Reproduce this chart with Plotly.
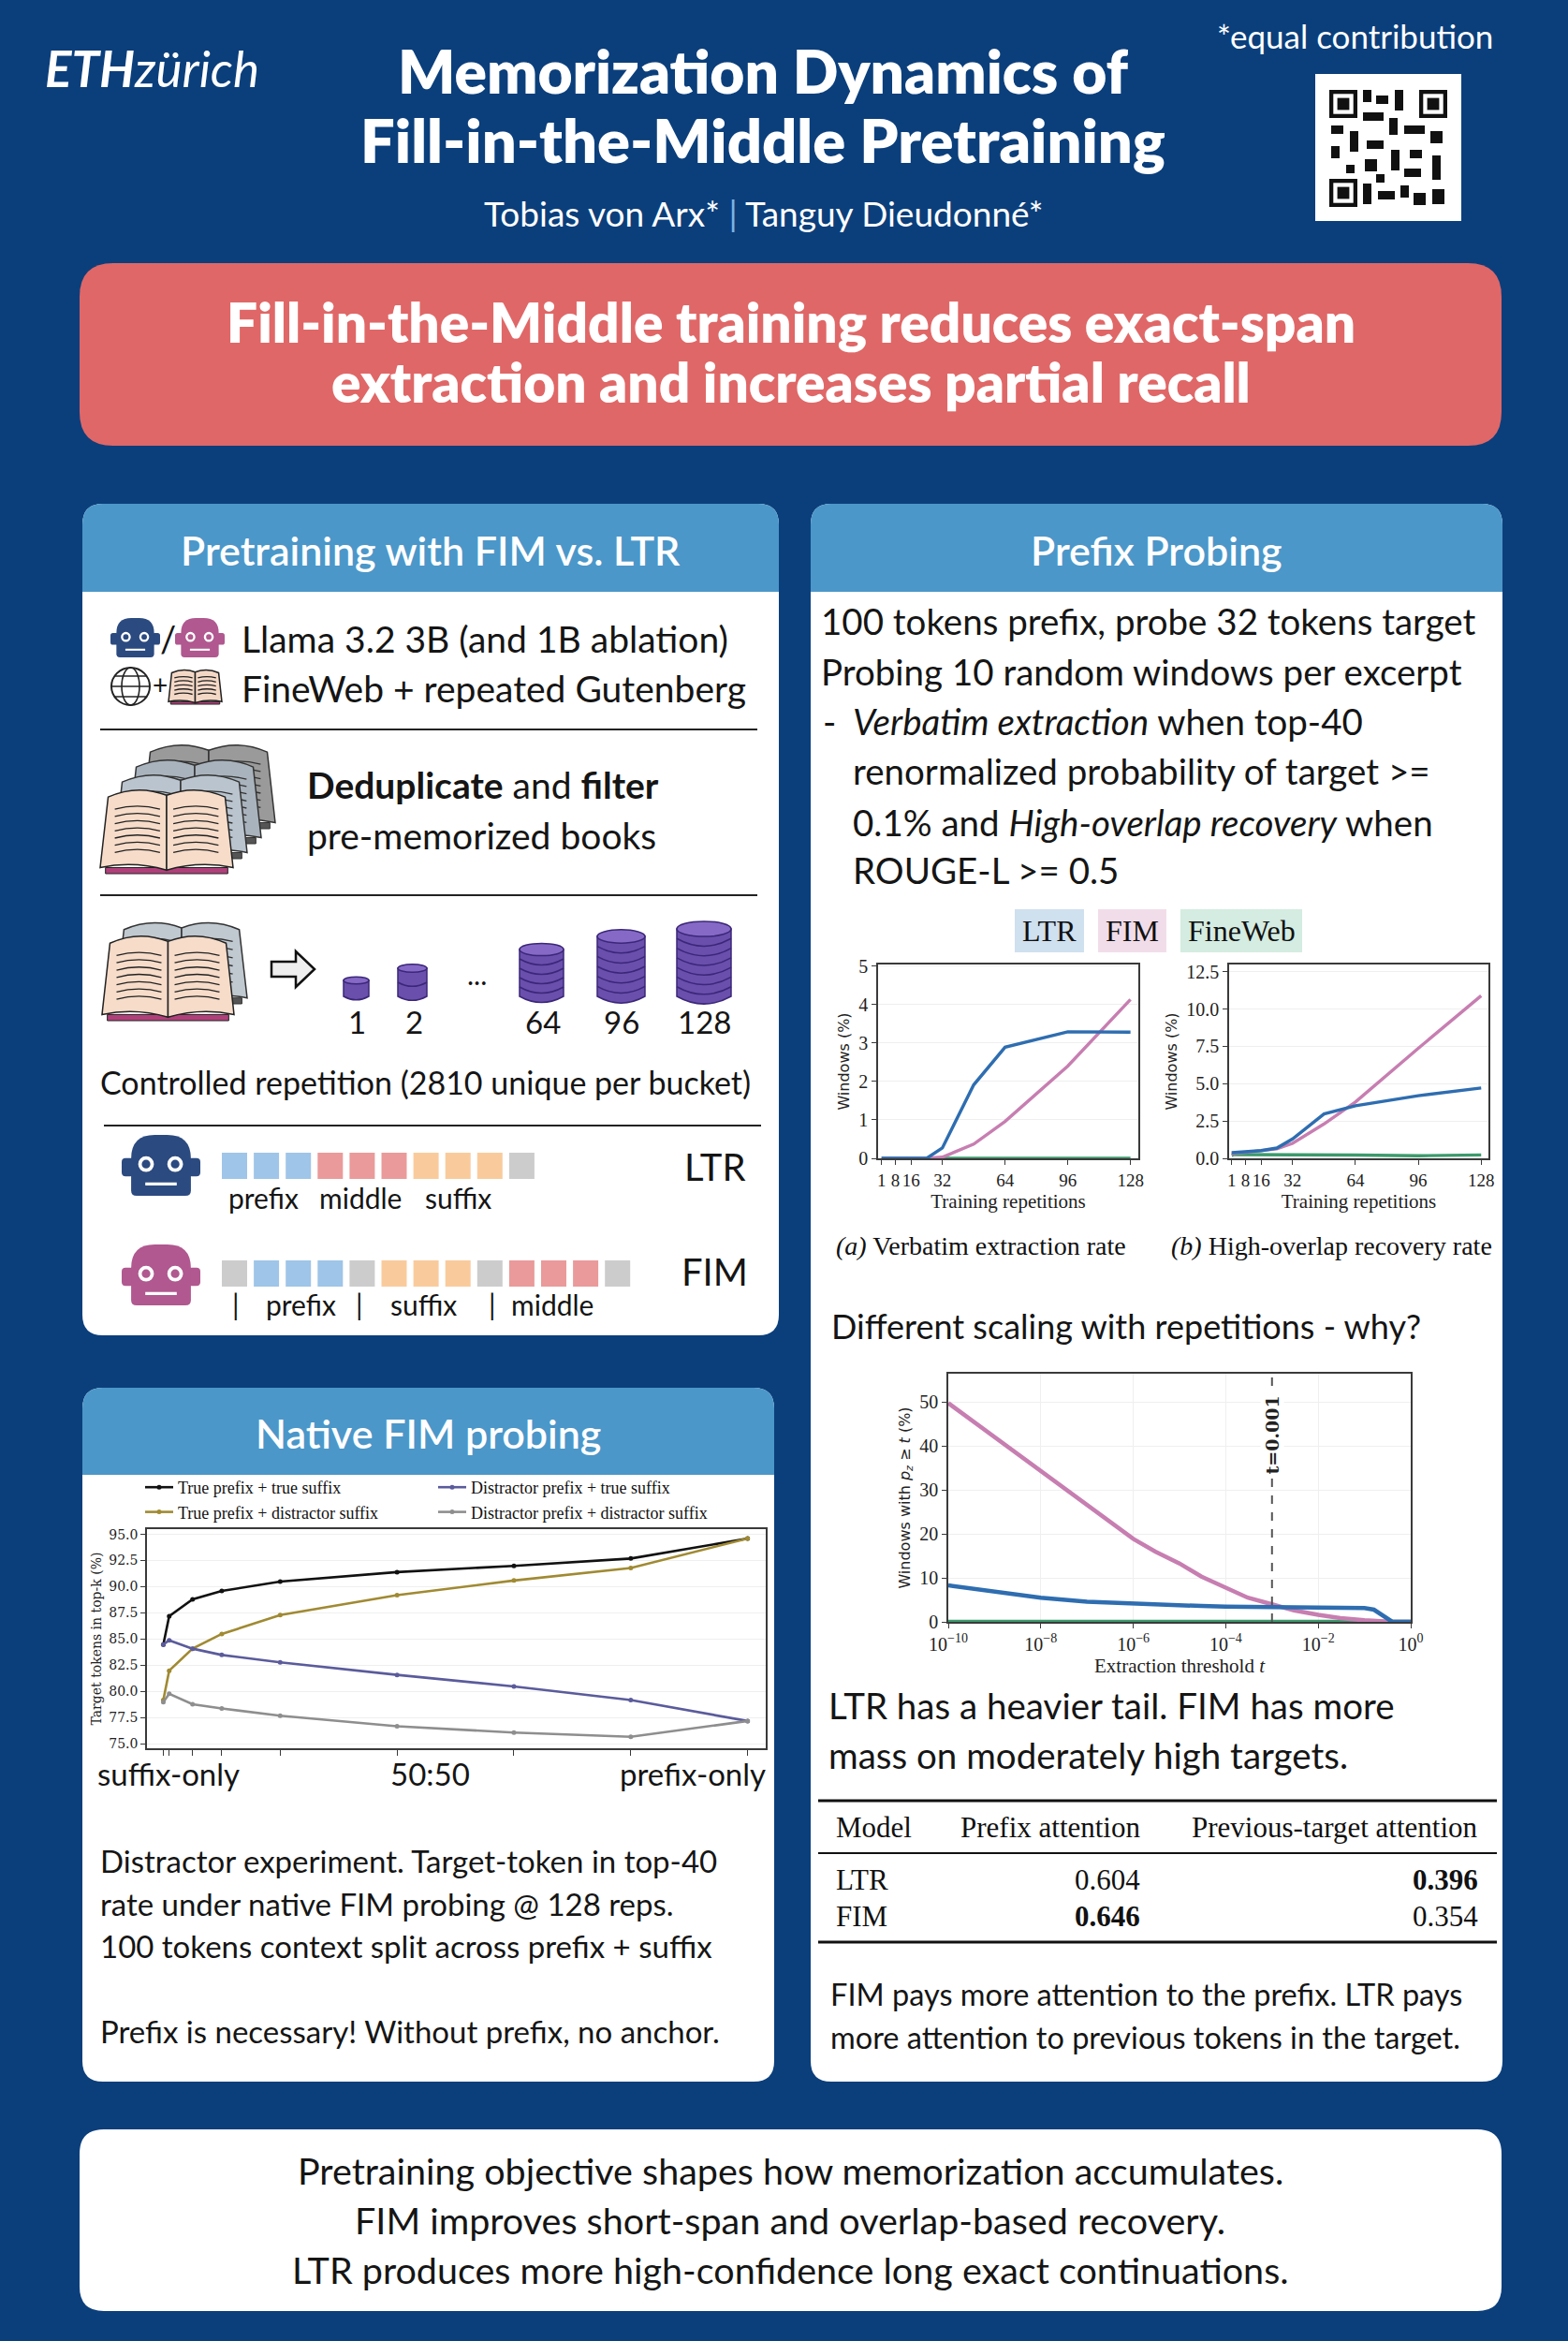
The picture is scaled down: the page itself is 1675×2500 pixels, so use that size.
import math

import plotly.graph_objects as go

W, H = 1675, 2500
BG = "#0b3f7c"
HEADER = "#4b97c9"
BANNER = "#e06767"
INK = "#151515"
SANS = "Lato"
SERIF = "Liberation Serif"

LTR_C = "#2e6db0"
FIM_C = "#c77eb1"
FW_C = "#3c9a6c"

REPS = [1, 2, 4, 8, 16, 24, 32, 48, 64, 96, 128]
VERBATIM_LTR = [0.0, 0.0, 0.0, 0.0, 0.0, 0.0, 0.27, 1.91, 2.89, 3.29, 3.28]
VERBATIM_FIM = [0.0, 0.0, 0.0, 0.0, 0.0, 0.0, 0.03, 0.37, 0.96, 2.40, 4.13]
VERBATIM_FW = [0.0, 0.0, 0.0, 0.0, 0.0, 0.0, 0.0, 0.0, 0.0, 0.0, 0.0]
OVERLAP_LTR = [0.38, 0.39, 0.40, 0.42, 0.52, 0.69, 1.30, 2.97, 3.52, 4.19, 4.71]
OVERLAP_FIM = [0.30, 0.33, 0.36, 0.40, 0.50, 0.63, 1.00, 2.30, 3.77, 7.37, 10.89]
OVERLAP_FW = [0.20, 0.24, 0.25, 0.25, 0.25, 0.25, 0.25, 0.24, 0.22, 0.17, 0.23]

THRESH = [1e-10, 1e-9, 1e-8, 1e-7, 1e-6, 3e-6, 1e-5, 3e-5, 1e-4, 3e-4, 1e-3,
          3e-3, 1e-2, 3e-2, 0.1, 0.16, 0.22, 0.32, 0.4, 1.0]
TAIL_FIM = [49.8, 42.1, 34.4, 26.6, 18.9, 16.0, 13.3, 10.3, 7.8, 5.5, 4.0,
            2.6, 1.6, 0.85, 0.35, 0.2, 0.1, 0.0, 0.0, 0.0]
TAIL_LTR = [8.3, 6.9, 5.5, 4.6, 4.1, 3.9, 3.76, 3.6, 3.48, 3.4, 3.33,
            3.25, 3.19, 3.15, 3.12, 2.77, 1.77, 0.7, 0.0, 0.0]
TAIL_FW = [0.0, 0.0, 0.0, 0.0, 0.0, 0.0, 0.0, 0.0, 0.0, 0.0, 0.0,
           0.0, 0.0, 0.0, 0.0, 0.0, 0.0, 0.0, 0.0, 0.0]
THRESHOLD = 1e-3

SPLIT = [0, 1, 5, 10, 20, 40, 60, 80, 100]
TRUE_TRUE = [84.5, 87.2, 88.8, 89.6, 90.5, 91.4, 92.0, 92.7, 94.6]
TRUE_DISTR = [79.2, 82.0, 84.1, 85.5, 87.3, 89.2, 90.6, 91.8, 94.6]
DISTR_TRUE = [84.5, 84.9, 84.1, 83.5, 82.8, 81.6, 80.5, 79.2, 77.2]
DISTR_DISTR = [79.0, 79.8, 78.8, 78.4, 77.7, 76.7, 76.1, 75.7, 77.2]

TABLE_MODELS = ["LTR", "FIM"]
PREFIX_ATT = [0.604, 0.646]
PREV_TARGET_ATT = [0.396, 0.354]

BUCKETS = ["1", "2", "64", "96", "128"]
BUCKET_DISCS = [1, 2, 5, 6, 7]

TOKEN_COLORS = {"prefix": "#9fc5e8", "middle": "#ea9a9a", "suffix": "#f9cb9c", "sep": "#cccccc"}
LTR_SEQ = ["prefix", "prefix", "prefix", "middle", "middle", "middle",
           "suffix", "suffix", "suffix", "sep"]
FIM_SEQ = ["sep", "prefix", "prefix", "prefix", "sep", "suffix", "suffix", "suffix",
           "sep", "middle", "middle", "middle", "sep"]


def X(v):
  return v / W


def Y(v):
  return 1 - v / H


shapes = []
annots = []


def path_str(cmds):
  out = []
  for op, *pts in cmds:
    coords = " ".join(f"{X(pts[i]):.5f},{Y(pts[i + 1]):.5f}" for i in range(0, len(pts), 2))
    out.append(op + coords)
  return " ".join(out)


def add_path(cmds, fill=None, line=None, lw=0):
  shapes.append(dict(
    type="path", xref="paper", yref="paper", path=path_str(cmds),
    fillcolor=fill or "rgba(0,0,0,0)",
    line=dict(color=line or "rgba(0,0,0,0)", width=lw), layer="below",
  ))


def add_rect(x0, y0, x1, y1, fill, line=None, lw=0):
  shapes.append(dict(
    type="rect", xref="paper", yref="paper", x0=X(x0), x1=X(x1), y0=Y(y1), y1=Y(y0),
    fillcolor=fill, line=dict(color=line or fill, width=lw), layer="below",
  ))


def add_oval(x0, y0, x1, y1, fill=None, line=None, lw=0):
  shapes.append(dict(
    type="circle", xref="paper", yref="paper", x0=X(x0), x1=X(x1), y0=Y(y1), y1=Y(y0),
    fillcolor=fill or "rgba(0,0,0,0)",
    line=dict(color=line or "rgba(0,0,0,0)", width=lw), layer="below",
  ))


def add_hline(x0, x1, y, color="#222222", lw=2):
  add_path([("M", x0, y), ("L", x1, y)], None, color, lw)


def rounded(x0, y0, x1, y1, rt, rb=None):
  rb = rt if rb is None else rb
  return [
    ("M", x0 + rt, y0), ("L", x1 - rt, y0), ("Q", x1, y0, x1, y0 + rt),
    ("L", x1, y1 - rb), ("Q", x1, y1, x1 - rb, y1), ("L", x0 + rb, y1),
    ("Q", x0, y1, x0, y1 - rb), ("L", x0, y0 + rt), ("Q", x0, y0, x0 + rt, y0), ("Z",),
  ]


def text(x, y, s, size, color=INK, family=SANS, anchor="left", weight=None, **kw):
  font = dict(size=size, color=color, family=family)
  if weight:
    font["weight"] = weight
  annots.append(dict(
    xref="paper", yref="paper", x=X(x), y=Y(y), text=s, showarrow=False,
    xanchor=anchor, yanchor="middle", font=font, **kw,
  ))


def panel(x0, y0, x1, y1, header_bottom, title):
  add_path(rounded(x0, y0, x1, y1, 22), "white")
  add_path(rounded(x0, y0, x1, header_bottom, 22, 0), HEADER)
  text((x0 + x1) / 2, (y0 + header_bottom) / 2 + 2, title, 43, "white", anchor="center", weight=600)


def robot(x0, y0, w, h, color):
  add_path(rounded(x0, y0 + 0.38 * h, x0 + 0.16 * w, y0 + 0.68 * h, 0.05 * w), color)
  add_path(rounded(x0 + 0.84 * w, y0 + 0.38 * h, x0 + w, y0 + 0.68 * h, 0.05 * w), color)
  add_path(rounded(x0 + 0.12 * w, y0, x0 + 0.88 * w, y0 + h, 0.3 * w, 0.07 * w), color)
  for ex in (0.31, 0.68):
    cx, cy, r = x0 + ex * w, y0 + 0.48 * h, 0.1 * w
    add_oval(cx - r, cy - r, cx + r, cy + r, "white")
    ri = r * 0.55
    add_oval(cx - ri, cy - ri, cx + ri, cy + ri, color)
  add_rect(x0 + 0.3 * w, y0 + 0.78 * h, x0 + 0.7 * w, y0 + 0.83 * h, "white")


def open_book(x0, y0, x1, y1, page, ink="#222222", n_lines=6, cover="#b0407a"):
  w, h = x1 - x0, y1 - y0
  xm = (x0 + x1) / 2
  add_rect(x0 + 0.04 * w, y1 - 0.07 * h, x1 - 0.04 * w, y1, cover, ink, 1)
  add_path([("M", x0, y1 - 0.07 * h), ("L", x0 + 0.06 * w, y0 + 0.12 * h),
            ("Q", x0 + 0.28 * w, y0 - 0.03 * h, xm, y0 + 0.1 * h), ("L", xm, y1 - 0.04 * h),
            ("Q", x0 + 0.25 * w, y1 - 0.15 * h, x0, y1 - 0.07 * h), ("Z",)], page, ink, 1.5)
  add_path([("M", x1, y1 - 0.07 * h), ("L", x1 - 0.06 * w, y0 + 0.12 * h),
            ("Q", x1 - 0.28 * w, y0 - 0.03 * h, xm, y0 + 0.1 * h), ("L", xm, y1 - 0.04 * h),
            ("Q", x1 - 0.25 * w, y1 - 0.15 * h, x1, y1 - 0.07 * h), ("Z",)], page, ink, 1.5)
  for k in range(n_lines):
    yk = y0 + 0.24 * h + k * (0.58 * h / n_lines)
    add_path([("M", x0 + 0.11 * w, yk + 0.02 * h), ("Q", x0 + 0.28 * w, yk - 0.05 * h, xm - 0.05 * w, yk + 0.02 * h)],
             None, ink, 1.3)
    add_path([("M", x1 - 0.11 * w, yk + 0.02 * h), ("Q", x1 - 0.28 * w, yk - 0.05 * h, xm + 0.05 * w, yk + 0.02 * h)],
             None, ink, 1.3)


def disc_stack(x0, x1, ybot, ytop, n, color="#6a4fad", edge="#3b2778", top="#8669c6"):
  ry = (x1 - x0) * 0.14
  mid = (x0 + x1) / 2
  add_path([("M", x0, ytop), ("L", x0, ybot), ("Q", mid, ybot + 2 * ry, x1, ybot),
            ("L", x1, ytop), ("Z",)], color, edge, 1.5)
  step = (ybot - ytop) / n
  for k in range(1, n):
    yk = ytop + k * step
    add_path([("M", x0, yk), ("Q", mid, yk + 2 * ry, x1, yk)], None, edge, 1.5)
  add_oval(x0, ytop - ry, x1, ytop + ry, top, edge, 1.5)


# ---- header ----
text(46, 72, "<b><i>ETH</i></b><i>zürich</i>", 53, "white")
text(1447, 38, "*equal contribution", 35, "white", anchor="center")
text(815, 76, "Memorization Dynamics of", 64, "white", anchor="center", weight=800)
text(815, 149, "Fill-in-the-Middle Pretraining", 65, "white", anchor="center", weight=800)
text(815, 228, "Tobias von Arx* <span style='color:#7fb2e0'>|</span> Tanguy Dieudonné*", 37,
     "white", anchor="center")

# qr code
add_rect(1405, 79, 1561, 236, "white")
for qx, qy in [(1420, 96), (1516, 96), (1420, 191)]:
  add_rect(qx, qy, qx + 30, qy + 30, "#111111")
  add_rect(qx + 4.3, qy + 4.3, qx + 25.7, qy + 25.7, "white")
  add_rect(qx + 8.6, qy + 8.6, qx + 21.4, qy + 21.4, "#111111")
for qx, qy, qw, qh in [(1456, 96, 9, 13), (1470, 102, 13, 9), (1490, 96, 9, 22),
                       (1456, 120, 22, 9), (1484, 126, 9, 18), (1422, 134, 13, 9),
                       (1442, 140, 9, 22), (1500, 134, 22, 9), (1528, 140, 13, 13),
                       (1460, 150, 18, 9), (1486, 160, 9, 22), (1506, 160, 13, 9),
                       (1530, 166, 9, 26), (1422, 156, 9, 13), (1458, 170, 13, 13),
                       (1500, 180, 18, 9), (1456, 196, 9, 22), (1472, 204, 18, 9),
                       (1496, 198, 9, 13), (1510, 206, 13, 13), (1530, 202, 13, 16),
                       (1470, 186, 9, 9), (1438, 176, 9, 9)]:
  add_rect(qx, qy, qx + qw, qy + qh, "#111111")

# banner
add_path(rounded(85, 281, 1604, 476, 36), BANNER)
text(845, 343, "Fill-in-the-Middle training reduces exact-span", 58.5, "white", anchor="center", weight=800)
text(845, 407, "extraction and increases partial recall", 58.5, "white", anchor="center", weight=800)

# ---- panel 1: pretraining ----
panel(88, 538, 832, 1426, 632, "Pretraining with FIM vs. LTR")
robot(118, 660, 53, 42, "#2b4a80")
text(179, 682, "/", 38, INK, anchor="center")
robot(187, 660, 53, 42, "#b0588f")
text(256, 682, "Llama 3.2 3B (and 1B ablation)", 39)
add_oval(119, 713, 160, 753, None, "#222222", 2)
add_oval(130, 713, 149, 753, None, "#222222", 1.6)
add_hline(119, 160, 733, "#222222", 1.6)
add_hline(123, 156, 722, "#222222", 1.4)
add_hline(123, 156, 744, "#222222", 1.4)
text(171, 731, "+", 28, INK, anchor="center")
open_book(180, 714, 237, 752, "#f4d8c6", n_lines=5)
text(256, 735, "FineWeb + repeated Gutenberg", 39)
add_hline(107, 809, 779, "#222222", 2)

for k, col in enumerate(["#9a9a9a", "#a9b3bd", "#bac4ce"]):
  off = 3 - k
  open_book(107 + 15 * off, 840 - 16 * off, 249 + 15 * off, 933 - 16 * off, col, "#333333", 7, "#555555")
open_book(107, 840, 249, 933, "#f6dcc9", n_lines=7)
text(326, 838, "<b>Deduplicate</b> and <b>filter</b>", 39)
text(326, 892, "pre-memorized books", 39)
add_hline(107, 809, 956, "#222222", 2)

open_book(124, 982, 264, 1072, "#c0c8d0", "#333333", 6, "#555555")
open_book(109, 996, 250, 1090, "#f6dcc9", n_lines=7)
add_path([("M", 290, 1027), ("L", 316, 1027), ("L", 316, 1016), ("L", 336, 1035),
          ("L", 316, 1054), ("L", 316, 1043), ("L", 290, 1043), ("Z",)], "#eeeeee", "#111111", 2.5)
stack_x = [(367, 394), (425, 456), (555, 602), (638, 689), (723, 781)]
stack_top = [1047, 1034, 1014, 1000, 992]
label_x = [381, 442, 580, 664, 752]
for (sx0, sx1), top, n, lab, lx in zip(stack_x, stack_top, BUCKET_DISCS, BUCKETS, label_x):
  disc_stack(sx0, sx1, 1064, top, n)
  text(lx, 1091, lab, 33, INK, anchor="center")
text(510, 1040, "...", 30, INK, anchor="center")
text(105, 1155, "Controlled repetition (2810 unique per bucket)", 34)
add_hline(111, 813, 1202, "#222222", 2)

robot(130, 1212, 84, 65, "#2b4a80")
for i, kind in enumerate(LTR_SEQ):
  add_rect(237 + i * 34.1, 1231, 264 + i * 34.1, 1259, TOKEN_COLORS[kind])
for lab, lx in [("prefix", 281), ("middle", 385), ("suffix", 489)]:
  text(lx, 1279, lab, 30, INK, anchor="center")
text(763, 1246, "LTR", 40, INK, anchor="center")

robot(130, 1329, 84, 65, "#b0588f")
for i, kind in enumerate(FIM_SEQ):
  add_rect(237 + i * 34.1, 1346, 264 + i * 34.1, 1374, TOKEN_COLORS[kind])
for lab, lx in [("|", 252), ("prefix", 321), ("|", 384), ("suffix", 452), ("|", 526), ("middle", 590)]:
  text(lx, 1393, lab, 30, INK, anchor="center")
text(763, 1358, "FIM", 40, INK, anchor="center")

# ---- panel 2: native fim ----
panel(88, 1482, 827, 2223, 1575, "Native FIM probing")
text(180, 1894, "suffix-only", 33, INK, anchor="center")
text(459, 1894, "50:50", 33, INK, anchor="center")
text(740, 1894, "prefix-only", 33, INK, anchor="center")
text(105, 1987, "Distractor experiment. Target-token in top-40", 33)
text(105, 2033, "rate under native FIM probing @ 128 reps.", 33)
text(105, 2078, "100 tokens context split across prefix + suffix", 33)
text(105, 2169, "Prefix is necessary! Without prefix, no anchor.", 33)

# ---- panel 3: prefix probing ----
panel(866, 538, 1605, 2223, 632, "Prefix Probing")
text(875, 663, "100 tokens prefix, probe 32 tokens target", 38.5)
text(875, 717, "Probing 10 random windows per excerpt", 38.5)
text(877, 770, "-", 38.5)
text(909, 770, "<i>Verbatim extraction</i> when top-40", 38.5)
text(909, 823, "renormalized probability of target >=", 38.5)
text(909, 878, "0.1% and <i>High-overlap recovery</i> when", 38.5)
text(909, 929, "ROUGE-L >= 0.5", 38.5)

for lab, x0, x1, col in [("LTR", 1084, 1158, "#cfe0ef"), ("FIM", 1173, 1246, "#f1dde9"),
                         ("FineWeb", 1261, 1391, "#d4ece1")]:
  add_rect(x0, 971, x1, 1017, col)
  text((x0 + x1) / 2, 994, lab, 32, "#111111", SERIF, anchor="center")

text(1048, 1330, "<i>(a)</i> Verbatim extraction rate", 28, "#111111", SERIF, anchor="center")
text(1422, 1330, "<i>(b)</i> High-overlap recovery rate", 28, "#111111", SERIF, anchor="center")
text(886, 1416, "Different scaling with repetitions - why?", 36)
text(883, 1821, "LTR has a heavier tail. FIM has more", 38.5)
text(883, 1874, "mass on moderately high targets.", 38.5)

# table
add_hline(874, 1599, 1923, "#111111", 3)
add_hline(874, 1599, 1979, "#111111", 2)
add_hline(874, 1599, 2074, "#111111", 3)
text(891, 1951, "Model", 31, "#111111", SERIF)
text(1220, 1951, "Prefix attention", 31, "#111111", SERIF, anchor="right")
text(1581, 1951, "Previous-target attention", 31, "#111111", SERIF, anchor="right")
for row, (model, pa, pt) in enumerate(zip(TABLE_MODELS, PREFIX_ATT, PREV_TARGET_ATT)):
  ry = 2007 + row * 39
  pa_s = f"{pa:.3f}" if pa < max(PREFIX_ATT) else f"<b>{pa:.3f}</b>"
  pt_s = f"{pt:.3f}" if pt < max(PREV_TARGET_ATT) else f"<b>{pt:.3f}</b>"
  text(891, ry, model, 31, "#111111", SERIF)
  text(1220, ry, pa_s, 31, "#111111", SERIF, anchor="right")
  text(1581, ry, pt_s, 31, "#111111", SERIF, anchor="right")
text(885, 2129, "FIM pays more attention to the prefix. LTR pays", 32.5)
text(885, 2175, "more attention to previous tokens in the target.", 32.5)

# ---- bottom box ----
add_path(rounded(85, 2274, 1604, 2468, 26), "white")
text(844, 2317, "Pretraining objective shapes how memorization accumulates.", 39.5, anchor="center")
text(844, 2370, "FIM improves short-span and overlap-based recovery.", 39.5, anchor="center")
text(844, 2423, "LTR produces more high-confidence long exact continuations.", 39.5, anchor="center")

# ---- charts ----
fig = go.Figure()

native = [
  ("True prefix + true suffix", TRUE_TRUE, "#111111", "legend"),
  ("True prefix + distractor suffix", TRUE_DISTR, "#a08a32", "legend"),
  ("Distractor prefix + true suffix", DISTR_TRUE, "#5b5b9c", "legend2"),
  ("Distractor prefix + distractor suffix", DISTR_DISTR, "#8e8e8e", "legend2"),
]
for name, vals, col, leg in native:
  fig.add_trace(go.Scatter(
    x=SPLIT, y=vals, name=name, mode="lines+markers", legend=leg,
    line=dict(color=col, width=2.6), marker=dict(color=col, size=5),
    xaxis="x", yaxis="y",
  ))

for vals, col in [(VERBATIM_FW, FW_C), (VERBATIM_FIM, FIM_C), (VERBATIM_LTR, LTR_C)]:
  fig.add_trace(go.Scatter(x=REPS, y=vals, mode="lines", line=dict(color=col, width=3.4),
                           showlegend=False, xaxis="x2", yaxis="y2", cliponaxis=False))
for vals, col in [(OVERLAP_FW, FW_C), (OVERLAP_FIM, FIM_C), (OVERLAP_LTR, LTR_C)]:
  fig.add_trace(go.Scatter(x=REPS, y=vals, mode="lines", line=dict(color=col, width=3.4),
                           showlegend=False, xaxis="x3", yaxis="y3", cliponaxis=False))
for vals, col in [(TAIL_FW, FW_C), (TAIL_FIM, FIM_C), (TAIL_LTR, LTR_C)]:
  fig.add_trace(go.Scatter(x=THRESH, y=vals, mode="lines", line=dict(color=col, width=4.5),
                           showlegend=False, xaxis="x4", yaxis="y4", cliponaxis=False))


def xdom(a, b):
  return [a / W, b / W]


def ydom(a, b):
  return [1 - b / H, 1 - a / H]


def ax(**kw):
  base = dict(showline=True, mirror=True, linecolor="#3a3a3a", linewidth=1.5, ticks="outside",
              ticklen=5, tickwidth=1.2, tickcolor="#3a3a3a", showgrid=True, gridcolor="#efefef",
              zeroline=False, fixedrange=True, automargin=False, tickangle=0,
              tickfont=dict(family=SERIF, size=20, color="#222222"))
  base.update(kw)
  return base


rep_ticks = dict(tickvals=[1, 8, 16, 32, 64, 96, 128], ticktext=["1", "8", "16", "32", "64", "96", "128"],
                 tickfont=dict(family=SERIF, size=19, color="#222222"))
rep_title = dict(text="Training repetitions", font=dict(family=SERIF, size=21, color="#222222"), standoff=2)
win_title = dict(text="Windows (%)", font=dict(family="DejaVu Sans", size=16, color="#222222"), standoff=6)

legend_style = dict(yanchor="top", xanchor="left", bgcolor="rgba(0,0,0,0)", tracegroupgap=0,
                    itemwidth=30, font=dict(family=SERIF, size=18, color="#111111"))

fig.update_layout(
  width=W, height=H, autosize=False,
  margin=dict(l=0, r=0, t=0, b=0, pad=0, autoexpand=False),
  paper_bgcolor=BG, plot_bgcolor="rgba(0,0,0,0)",
  hovermode=False,
  shapes=shapes + [dict(type="line", xref="x4", yref="y4 domain", x0=THRESHOLD, x1=THRESHOLD,
                        y0=0, y1=1, line=dict(color="#555555", width=2, dash="dash"))],
  annotations=annots + [dict(xref="x4", yref="y4", x=math.log10(THRESHOLD), y=42.5,
                             text="<b>t=0.001</b>", textangle=-90, showarrow=False,
                             bgcolor="white", font=dict(family="DejaVu Serif", size=19, color="#222222"))],
  xaxis=ax(domain=xdom(157, 818), range=[-2.8, 103.1], anchor="y", tickvals=SPLIT,
           showticklabels=False, showgrid=False, ticklen=6),
  yaxis=ax(domain=ydom(1633, 1867), range=[74.6, 95.5], anchor="x", tick0=75, dtick=2.5,
           tickformat=".1f", tickfont=dict(family="DejaVu Serif", size=14, color="#222222"),
           title=dict(text="Target tokens in top-k (%)", font=dict(family="DejaVu Serif", size=14, color="#222222"),
                      standoff=4)),
  xaxis2=ax(domain=xdom(938, 1216), range=[-0.8, 132], anchor="y2", showgrid=False,
            title=rep_title, **rep_ticks),
  yaxis2=ax(domain=ydom(1030, 1237), range=[0, 5.04], anchor="x2", dtick=1, title=win_title),
  xaxis3=ax(domain=xdom(1313, 1590), range=[-0.3, 131.7], anchor="y3", showgrid=False,
            title=rep_title, **rep_ticks),
  yaxis3=ax(domain=ydom(1030, 1237), range=[0, 12.98], anchor="x3", tick0=0, dtick=2.5,
            tickformat=".1f", title=win_title),
  xaxis4=ax(domain=xdom(1013, 1507), type="log", range=[-10, 0], anchor="y4",
            tickvals=[1e-10, 1e-8, 1e-6, 1e-4, 1e-2, 1],
            ticktext=["10<sup>−10</sup>", "10<sup>−8</sup>", "10<sup>−6</sup>", "10<sup>−4</sup>",
                      "10<sup>−2</sup>", "10<sup>0</sup>"],
            title=dict(text="Extraction threshold <i>t</i>", font=dict(family=SERIF, size=21, color="#222222"),
                       standoff=2)),
  yaxis4=ax(domain=ydom(1467, 1732), range=[0, 56.5], anchor="x4", dtick=10,
            title=dict(text="Windows with <i>p<sub>z</sub></i> ≥ <i>t</i> (%)",
                       font=dict(family="DejaVu Sans", size=16, color="#222222"), standoff=6)),
  legend=dict(x=150 / W, y=1 - 1570 / H, **legend_style),
  legend2=dict(x=463 / W, y=1 - 1570 / H, **legend_style),
)

fig.write_html(
  "out.html",
  config={"displayModeBar": False},
  post_script="document.body.style.margin='0';document.body.style.overflow='hidden';",
)
